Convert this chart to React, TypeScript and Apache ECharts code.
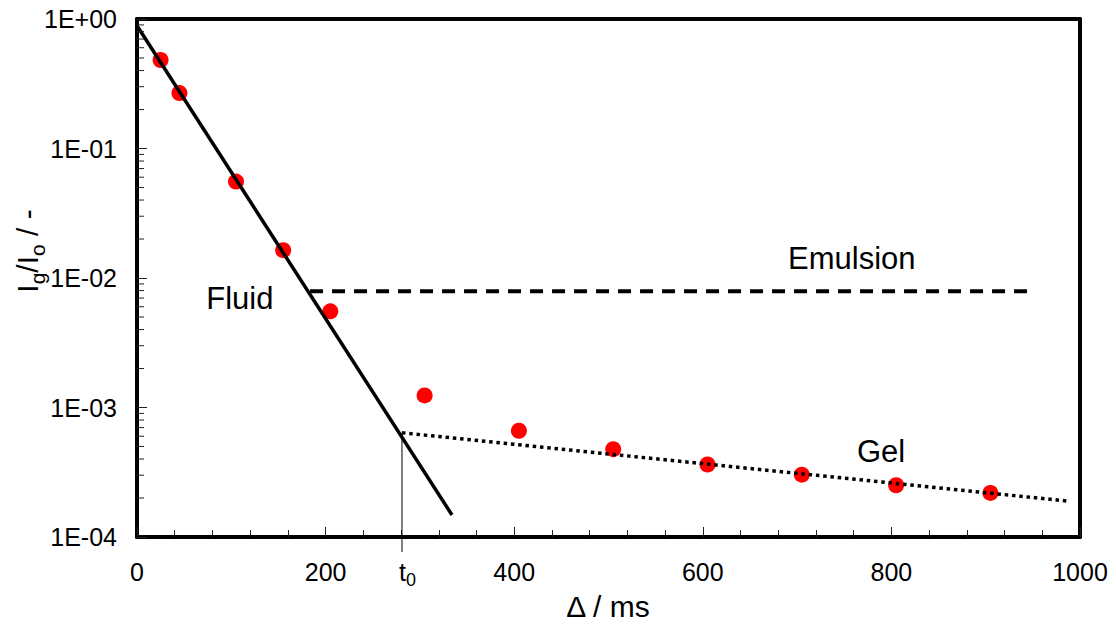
import React, { useEffect, useRef } from 'react';
import * as echarts from 'echarts';

// Measured data (Δ in ms, Ig/Io)
const deltaMs = [25, 45, 105, 155, 205, 305, 405, 505, 605, 705, 805, 905];
const intensityRatio = [0.482, 0.268, 0.0555, 0.0164, 0.00553, 0.00124, 0.000661, 0.000477, 0.000363, 0.000303, 0.000251, 0.000219];

// Guide lines
const fluidLine = [[0, 0.888], [334, 0.000148]];
const emulsionLine = [[183.5, 0.0079], [945, 0.0079]];
const gelLine = [[281, 0.000638], [988, 0.000189]];
const t0Line = [[281, 0.000638], [281, 0.0000765]];

// Axis labels
const yTickLabels: Record<number, string> = { [-4]: '1E-04', [-3]: '1E-03', [-2]: '1E-02', [-1]: '1E-01', [0]: '1E+00' };
const yMinorTicks = [
  0.0002, 0.0003, 0.0004, 0.0005, 0.0006, 0.0007, 0.0008, 0.0009,
  0.002, 0.003, 0.004, 0.005, 0.006, 0.007, 0.008, 0.009,
  0.02, 0.03, 0.04, 0.05, 0.06, 0.07, 0.08, 0.09,
  0.2, 0.3, 0.4, 0.5, 0.6, 0.7, 0.8, 0.9,
];

// Annotations (data coordinates)
const annotations = [
  { text: 'Fluid', x: 109, y: 0.00694 },
  { text: 'Emulsion', x: 758, y: 0.01416 },
  { text: 'Gel', x: 789, y: 0.000455 },
];

const FONT = '"Liberation Sans", Arial, Helvetica, sans-serif';
const TICK = { color: '#222', width: 1 };

export default function App() {
  const ref = useRef<HTMLDivElement>(null);
  useEffect(() => {
    if (!ref.current) return;
    const chart = echarts.init(ref.current, undefined, { renderer: 'svg' });
    const option: any = {
      animation: false,
      backgroundColor: '#fff',
      grid: { left: 137, right: 36, top: 19, bottom: 91 },
      xAxis: [
        {
          type: 'value', min: 0, max: 1000, interval: 200,
          axisLine: { show: true, onZero: false, lineStyle: { color: '#000', width: 4 } },
          axisTick: { show: true, inside: true, length: 10, lineStyle: TICK },
          minorTick: { show: true, splitNumber: 5, length: 7, lineStyle: TICK },
          splitLine: { show: false },
          axisLabel: { color: '#000', fontSize: 25, fontFamily: FONT, margin: 22, formatter: (v: number) => String(v) },
        },
        {
          type: 'value', min: 0, max: 1000, position: 'top',
          axisLine: { show: true, onZero: false, lineStyle: { color: '#000', width: 4 } },
          axisTick: { show: false }, axisLabel: { show: false }, splitLine: { show: false },
        },
      ],
      yAxis: [
        {
          type: 'log', logBase: 10, min: 0.0001, max: 1,
          axisLine: { show: true, onZero: false, lineStyle: { color: '#000', width: 4 } },
          axisTick: { show: true, inside: true, length: 10, lineStyle: TICK },
          splitLine: { show: false },
          axisLabel: {
            color: '#000', fontSize: 25, fontFamily: FONT, margin: 20,
            formatter: (v: number) => yTickLabels[Math.round(Math.log10(v))] ?? '',
          },
        },
        {
          type: 'log', logBase: 10, min: 0.0001, max: 1, position: 'right',
          axisLine: { show: true, onZero: false, lineStyle: { color: '#000', width: 4 } },
          axisTick: { show: false }, axisLabel: { show: false }, splitLine: { show: false },
        },
      ],
      series: [
        {
          type: 'custom', silent: true, z: 5, clip: false,
          data: yMinorTicks.map((v) => [0, v]),
          renderItem: (params: any, api: any) => {
            const p = api.coord([0, api.value(1)]);
            return {
              type: 'line',
              shape: { x1: p[0], y1: p[1], x2: p[0] + 7, y2: p[1] },
              style: { stroke: '#222', lineWidth: 1 },
            };
          },
        },
        {
          type: 'scatter', z: 2,
          data: deltaMs.map((x, i) => [x, intensityRatio[i]]),
          symbol: 'circle', symbolSize: 16,
          itemStyle: { color: '#ff0000', opacity: 1 },
        },
        {
          type: 'line', z: 3, data: fluidLine, symbol: 'none',
          lineStyle: { color: '#000', width: 3.5 },
        },
        {
          type: 'line', z: 3, data: emulsionLine, symbol: 'none',
          lineStyle: { color: '#000', width: 4, type: [13, 9] },
        },
        {
          type: 'line', z: 3, data: gelLine, symbol: 'none',
          lineStyle: { color: '#000', width: 3.5, type: [3.5, 3.8] },
        },
        {
          type: 'line', z: 3, data: t0Line, symbol: 'none', clip: false,
          lineStyle: { color: '#000', width: 1 },
        },
      ],
    };
    chart.setOption(option);

    const graphics: any[] = annotations.map((a) => {
      const p = chart.convertToPixel({ gridIndex: 0 }, [a.x, a.y]);
      return {
        type: 'text', x: p[0], y: p[1], z: 10,
        style: { text: a.text, fill: '#000', font: `31px ${FONT}`, align: 'center', verticalAlign: 'middle' },
      };
    });
    const t0p = chart.convertToPixel({ gridIndex: 0 }, [t0Line[0][0], 0.0001]);
    graphics.push({
      type: 'text', x: t0p[0] - 3, y: t0p[1] + 37, z: 10,
      style: {
        text: '{m|t}{s|0}', align: 'left', verticalAlign: 'middle',
        rich: {
          m: { fontSize: 25, fontFamily: FONT, fill: '#000', lineHeight: 25, verticalAlign: 'top' },
          s: { fontSize: 18, fontFamily: FONT, fill: '#000', padding: [12, 0, 0, 0], verticalAlign: 'top' },
        },
      },
    });
    graphics.push({
      type: 'text', x: 608, y: 606, z: 10,
      style: { text: 'Δ / ms', fill: '#000', font: `30px ${FONT}`, align: 'center', verticalAlign: 'middle' },
    });
    graphics.push({
      type: 'text', x: 30, y: 251, rotation: Math.PI / 2, z: 10,
      style: {
        text: '{m|I}{s|g}{m|/I}{s|o}{m| / -}', align: 'center', verticalAlign: 'middle',
        rich: {
          m: { fontSize: 30, fontFamily: FONT, fill: '#000', lineHeight: 30, verticalAlign: 'top' },
          s: { fontSize: 21, fontFamily: FONT, fill: '#000', padding: [14, 0, 0, 0], verticalAlign: 'top' },
        },
      },
    });
    chart.setOption({ graphic: graphics });

    return () => chart.dispose();
  }, []);
  return <div ref={ref} style={{ width: 1116, height: 628, position: 'absolute', left: 0, top: 0 }} />;
}
